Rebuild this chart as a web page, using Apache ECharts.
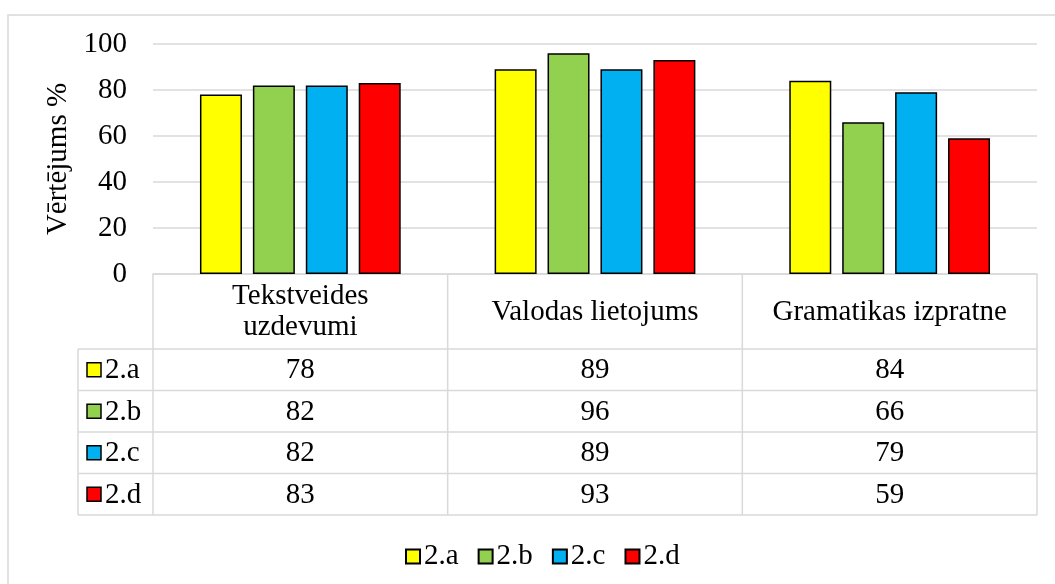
<!DOCTYPE html>
<html>
<head>
<meta charset="utf-8">
<script src="https://cdn.jsdelivr.net/npm/echarts@6/dist/echarts.min.js"></script>
<style>
  html, body { margin: 0; padding: 0; background: #fff; }
  #main { width: 1055px; height: 584px; }
</style>
</head>
<body>
<div id="main"></div>
<script>
// kategorijas un vērtības
const categories = ['Tekstveides\nuzdevumi', 'Valodas lietojums', 'Gramatikas izpratne'];
const seriesNames = ['2.a', '2.b', '2.c', '2.d'];
const values2a = [78, 89, 84];
const values2b = [82, 96, 66];
const values2c = [82, 89, 79];
const values2d = [83, 93, 59];
const yTicks = [0, 20, 40, 60, 80, 100];

const colors = ['#FFFF00', '#92D050', '#00B0F0', '#FF0000'];
const allValues = [values2a, values2b, values2c, values2d];
const FONT = '"Liberation Serif", "Times New Roman", serif';
const FS = 29;
const GRID_COLOR = '#d9d9d9';

const chart = echarts.init(document.getElementById('main'));

const option = {
  animation: false,
  textStyle: { fontFamily: FONT },
  grid: { left: 153, right: 18, top: 44, bottom: 310 },
  legend: {
    data: seriesNames,
    icon: 'rect',
    left: 400,
    top: 537,
    itemWidth: 14,
    itemHeight: 14,
    itemGap: 19,
    textStyle: { fontFamily: FONT, fontSize: FS, color: '#000', padding: [0, 0, 0, -1] }
  },
  xAxis: {
    type: 'category',
    data: categories,
    axisLine: { show: true, lineStyle: { color: GRID_COLOR, width: 1.5 } },
    axisTick: { show: false },
    axisLabel: {
      margin: 38,
      verticalAlign: 'middle',
      lineHeight: 31,
      fontFamily: FONT,
      fontSize: FS,
      color: '#000',
      interval: 0
    }
  },
  yAxis: {
    type: 'value',
    min: yTicks[0],
    max: yTicks[yTicks.length - 1],
    interval: 20,
    name: 'Vērtējums %',
    nameLocation: 'middle',
    nameGap: 78,
    nameTextStyle: { fontFamily: FONT, fontSize: 29, color: '#000' },
    axisLine: { show: false },
    axisTick: { show: false },
    axisLabel: { margin: 26, fontFamily: FONT, fontSize: FS, color: '#000' },
    splitLine: { lineStyle: { color: GRID_COLOR, width: 1.5 } }
  },
  series: seriesNames.map((name, i) => ({
    name: name,
    type: 'bar',
    data: allValues[i],
    barWidth: 42,
    barGap: '26%',
    itemStyle: { color: colors[i], borderColor: '#000', borderWidth: 1.5 }
  }))
};

chart.setOption(option);

// datu tabula zem grafika
function buildTable() {
  const y0 = chart.convertToPixel({ yAxisIndex: 0 }, 0);
  const c0 = chart.convertToPixel({ xAxisIndex: 0 }, 0);
  const c1 = chart.convertToPixel({ xAxisIndex: 0 }, 1);
  const step = c1 - c0;
  const left = c0 - step / 2;
  const right = left + step * categories.length;
  const headerH = 75;
  const rowH = 41.5;
  const keyLeft = 78;
  const lineStyle = { stroke: GRID_COLOR, lineWidth: 1.5 };
  const g = [];

  // ārējais rāmis
  g.push({ type: 'rect', shape: { x: 8, y: 15, width: 1060, height: 600 }, style: { fill: 'none', stroke: GRID_COLOR, lineWidth: 1.5 }, silent: true });

  const rowsTop = y0 + headerH;
  const bottom = rowsTop + rowH * seriesNames.length;
  // vertikālās līnijas
  for (let i = 0; i <= categories.length; i++) {
    const x = left + step * i;
    g.push({ type: 'line', shape: { x1: x, y1: y0, x2: x, y2: bottom }, style: lineStyle });
  }
  g.push({ type: 'line', shape: { x1: keyLeft, y1: rowsTop, x2: keyLeft, y2: bottom }, style: lineStyle });
  // horizontālās līnijas
  for (let r = 0; r <= seriesNames.length; r++) {
    const y = rowsTop + rowH * r;
    g.push({ type: 'line', shape: { x1: keyLeft, y1: y, x2: right, y2: y }, style: lineStyle });
  }
  // rindas
  seriesNames.forEach((name, r) => {
    const cy = rowsTop + rowH * r + rowH / 2;
    g.push({ type: 'rect', shape: { x: 87, y: cy - 7, width: 14, height: 14 }, style: { fill: colors[r], stroke: '#000', lineWidth: 1.5 } });
    g.push({ type: 'text', x: 105, y: cy + 1, style: { text: name, font: FS + 'px ' + FONT, fill: '#000', verticalAlign: 'middle', align: 'left' } });
    allValues[r].forEach((v, c) => {
      g.push({ type: 'text', x: left + step * c + step / 2, y: cy + 1, style: { text: String(v), font: FS + 'px ' + FONT, fill: '#000', verticalAlign: 'middle', align: 'center' } });
    });
  });
  chart.setOption({ graphic: g });
}

buildTable();
</script>
</body>
</html>
